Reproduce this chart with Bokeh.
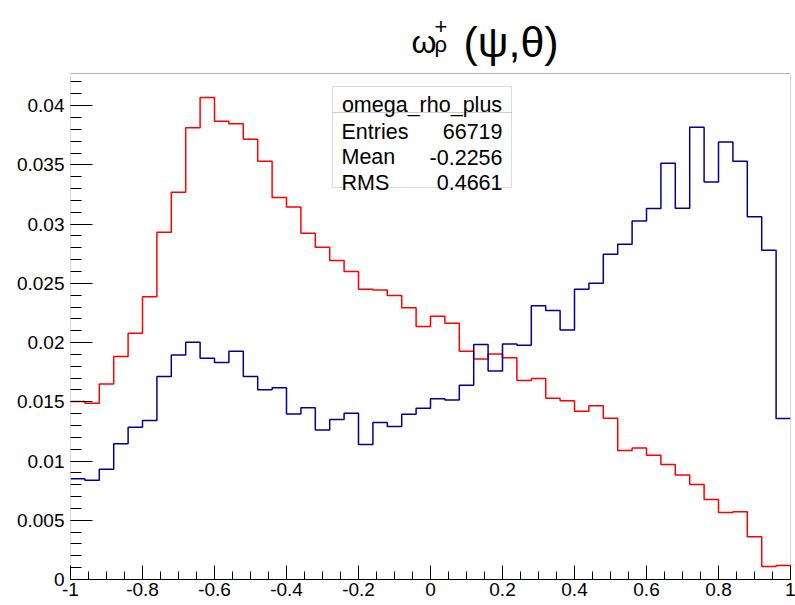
import numpy as np
from bokeh.plotting import figure
from bokeh.models import Range1d, FixedTicker, Label, BoxAnnotation
from bokeh.embed import file_html
from bokeh.resources import INLINE

# ---- data ----
x_min, x_max, n_bins = -1.0, 1.0, 50

red_values = [0.01502, 0.01488, 0.01651, 0.01882, 0.02079, 0.02386, 0.02931, 0.03269,
              0.03814, 0.04068, 0.03868, 0.03848, 0.03716, 0.03530, 0.03224, 0.03145,
              0.02922, 0.02805, 0.02692, 0.02599, 0.02450, 0.02444, 0.02397, 0.02295,
              0.02135, 0.02222, 0.02163, 0.01927, 0.01862, 0.01904, 0.01871, 0.01679,
              0.01696, 0.01530, 0.01508, 0.01420, 0.01466, 0.01361, 0.01089, 0.01111,
              0.01049, 0.00970, 0.00883, 0.00802, 0.00675, 0.00565, 0.00571, 0.00360,
              0.00110, 0.00118]

blue_values = [0.00850, 0.00838, 0.00931, 0.01145, 0.01285, 0.01342, 0.01713, 0.01896,
               0.02003, 0.01868, 0.01831, 0.01927, 0.01713, 0.01601, 0.01618, 0.01398,
               0.01449, 0.01263, 0.01350, 0.01404, 0.01139, 0.01325, 0.01291, 0.01395,
               0.01446, 0.01525, 0.01516, 0.01640, 0.01983, 0.01761, 0.01989, 0.01977,
               0.02310, 0.02270, 0.02107, 0.02450, 0.02500, 0.02745, 0.02830, 0.03027,
               0.03131, 0.03513, 0.03134, 0.03817, 0.03356, 0.03694, 0.03530, 0.03063,
               0.02779, 0.01359]

x_ticks = [-1.0, -0.8, -0.6, -0.4, -0.2, 0.0, 0.2, 0.4, 0.6, 0.8, 1.0]
x_tick_labels = ["-1", "-0.8", "-0.6", "-0.4", "-0.2", "0", "0.2", "0.4", "0.6", "0.8", "1"]
y_ticks = [0.0, 0.005, 0.01, 0.015, 0.02, 0.025, 0.03, 0.035, 0.04]
y_tick_labels = ["0", "0.005", "0.01", "0.015", "0.02", "0.025", "0.03", "0.035", "0.04"]

stats_title = "omega_rho_plus"
stats_names = ["Entries", "Mean", "RMS"]
stats_values = ["66719", "-0.2256", "0.4661"]

FONT = "Liberation Sans"
W, H = 795, 605
FRAME_TOP, FRAME_BOTTOM = 73, 579   # canvas pixels of the visible histogram box
BORDER_BOTTOM = H - FRAME_BOTTOM

# The drawing frame spans from the canvas top down to the x axis, so the title
# (placed in canvas units) sits inside it; the visible box is drawn separately.
y_plot_top = max(red_values) * 1.05
y_frame_top = y_plot_top * FRAME_BOTTOM / (FRAME_BOTTOM - FRAME_TOP)

p = figure(width=W, height=H, output_backend="svg", toolbar_location=None,
           x_range=Range1d(x_min, x_max), y_range=Range1d(0, y_frame_top),
           min_border_left=70, min_border_right=5, min_border_top=0,
           min_border_bottom=BORDER_BOTTOM)
p.title.visible = False
p.background_fill_color = "white"
p.border_fill_color = "white"
p.outline_line_color = None
p.xgrid.visible = False
p.ygrid.visible = False

# visible histogram box
p.add_layout(BoxAnnotation(left=x_min, right=x_max, bottom=0, top=y_plot_top,
                           fill_color=None, line_color="black", line_width=1,
                           level="underlay"))

# stats box (two stacked cells)
bl, br, bt, bs, bb = 332, 511, 86, 112, 187
for top, bot in ((bt, bs), (bs, bb)):
    p.add_layout(BoxAnnotation(left=bl, right=br, top=top, bottom=bot,
                               left_units="canvas", right_units="canvas",
                               top_units="canvas", bottom_units="canvas",
                               fill_color="white", fill_alpha=1.0,
                               line_color="#888888", line_width=1, level="underlay"))

edges = np.linspace(x_min, x_max, n_bins + 1)
p.step(edges, red_values + [red_values[-1]], mode="after", line_color="#ff0000", line_width=1.5)
p.step(edges, blue_values + [blue_values[-1]], mode="after", line_color="#000099", line_width=1.5)

x_minor = list(np.round(np.arange(-1.0, 1.0001, 0.05), 4))
y_minor = list(np.round(np.arange(0.0, 0.0426, 0.001), 5))
p.xaxis.ticker = FixedTicker(ticks=x_ticks, minor_ticks=x_minor)
p.yaxis.ticker = FixedTicker(ticks=y_ticks, minor_ticks=y_minor)
p.xaxis.major_label_overrides = dict(zip(x_ticks, x_tick_labels))
p.yaxis.major_label_overrides = dict(zip(y_ticks, y_tick_labels))

for ax in (p.xaxis, p.yaxis):
    ax.major_tick_line_color = "black"
    ax.minor_tick_line_color = "black"
    ax.major_tick_out = 0
    ax.minor_tick_out = 0
    ax.major_label_text_font = FONT
    ax.major_label_text_font_size = "19px"
    ax.major_label_text_color = "black"
p.xaxis.axis_line_color = "black"
p.yaxis.axis_line_color = None
p.xaxis.major_tick_in = 14
p.xaxis.minor_tick_in = 8
p.yaxis.major_tick_in = 22
p.yaxis.minor_tick_in = 11
p.xaxis.major_label_standoff = 3
p.yaxis.major_label_standoff = 6

def canvas_label(x, y, text, size, align="left"):
    p.add_layout(Label(x=x, y=y, x_units="canvas", y_units="canvas", text=text,
                       text_align=align, text_baseline="alphabetic",
                       text_font=FONT, text_font_size=size, text_color="black"))

# title  ω_ρ^+ (ψ,θ)
canvas_label(411, 41, "ω", "32px")
canvas_label(434, 44, "ρ", "22px")
canvas_label(434, 26, "+", "22px")
canvas_label(463, 41, "(ψ,θ)", "43px")

# stats texts
canvas_label((bl + br) / 2, 104, stats_title, "21.5px", "center")
for i, (nm, val) in enumerate(zip(stats_names, stats_values)):
    yb = 131 + 25.5 * i
    canvas_label(bl + 9, yb, nm, "21.5px", "left")
    canvas_label(br - 9, yb, val, "21.5px", "right")

open("out.html", "w").write(file_html(p, INLINE))
